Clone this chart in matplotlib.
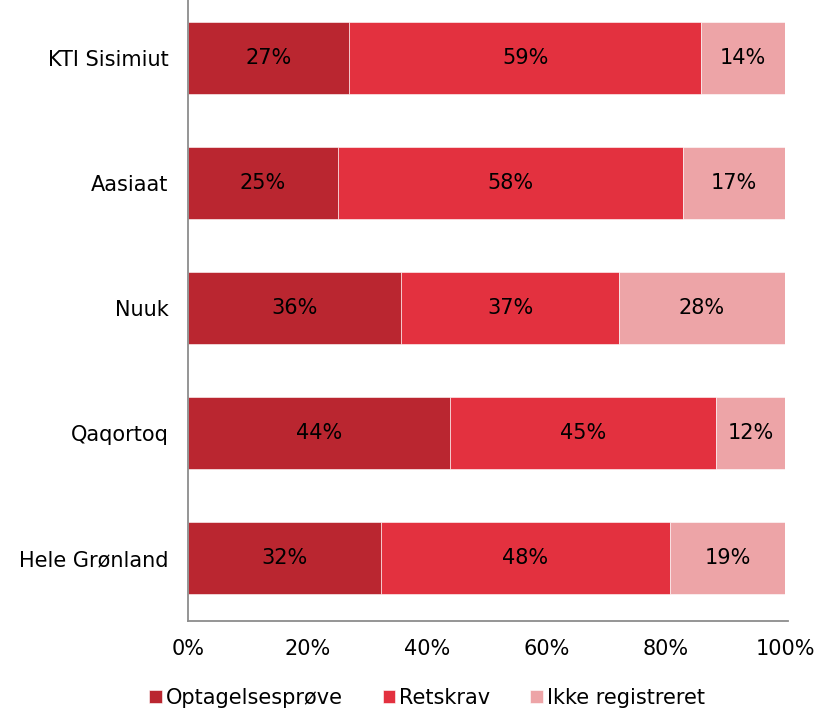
import matplotlib
matplotlib.use("Agg")
import matplotlib.pyplot as plt
import numpy as np

categories = ["Hele Grønland", "Qaqortoq", "Nuuk", "Aasiaat", "KTI Sisimiut"]
optagelse = [32.3, 43.9, 35.7, 25.1, 27.0]
retskrav = [48.4, 44.6, 36.5, 57.8, 59.0]
ikke_reg = [19.3, 11.5, 27.8, 17.1, 14.0]
labels_opt = ["32%", "44%", "36%", "25%", "27%"]
labels_ret = ["48%", "45%", "37%", "58%", "59%"]
labels_ikke = ["19%", "12%", "28%", "17%", "14%"]
series_names = ["Optagelsesprøve", "Retskrav", "Ikke registreret"]
colors = ["#BA2630", "#E3313F", "#EDA4A7"]

FS = 15
plt.rcParams['font.family'] = ['DejaVu Sans']
fig = plt.figure(figsize=(8.31, 7.10), dpi=100)
ax = fig.add_axes([188/831, (710-620.5)/710, (785-188)/831, (625)/710])

y = np.arange(len(categories))
data = [optagelse, retskrav, ikke_reg]
labs = [labels_opt, labels_ret, labels_ikke]
left = np.zeros(len(categories))
for vals, lab, col, name in zip(data, labs, colors, series_names):
    vals = np.array(vals)
    ax.barh(y, vals, left=left, height=0.57, color=col, label=name,
            edgecolor='white', linewidth=0.4)
    for yi, l, v, t in zip(y, left, vals, lab):
        ax.text(l + v/2, yi, t, ha='center', va='center', fontsize=FS, color='black')
    left = left + vals

ax.set_xlim(0, 100)
ax.set_ylim(-0.5, 4.5)
ax.set_yticks(y)
ax.set_yticklabels(categories, fontsize=FS)
ax.set_xticks([0, 20, 40, 60, 80, 100])
ax.set_xticklabels(["0%", "20%", "40%", "60%", "80%", "100%"], fontsize=FS)
ax.tick_params(axis='both', length=0)
ax.tick_params(axis='x', pad=13)
ax.tick_params(axis='y', pad=14)
for s in ['top', 'right']:
    ax.spines[s].set_visible(False)
ax.spines['left'].set_color('#8C8C8C')
ax.spines['bottom'].set_color('#8C8C8C')
ax.spines['left'].set_linewidth(1.3)
ax.spines['bottom'].set_linewidth(1.3)
ax.spines['bottom'].set_bounds(0, 100.5)

fig.legend(loc='center', bbox_to_anchor=(0.514, 1-698/710), ncol=3, frameon=False,
           fontsize=FS, handlelength=0.6, handleheight=0.6, handletextpad=0.2,
           columnspacing=1.9, borderpad=0)

fig.savefig("out.png", dpi=100)
